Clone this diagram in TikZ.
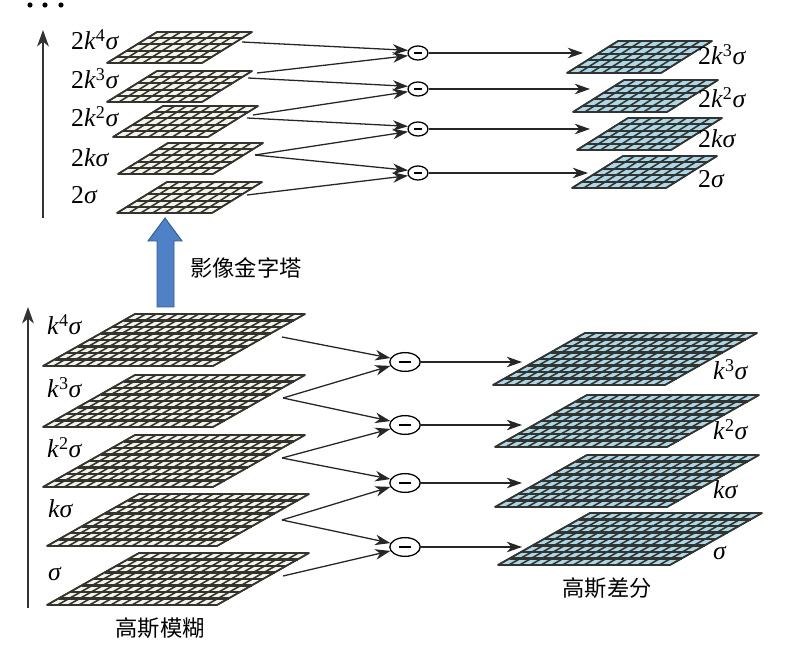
\documentclass[tikz,border=0pt]{standalone}
\usepackage{fontspec}
\setmainfont{Liberation Serif}
\newfontfamily\cjk{Noto Sans CJK SC}
\usetikzlibrary{arrows.meta,shapes.geometric}

\definecolor{gridtan}{HTML}{F6F4EA}
\definecolor{gridblue}{HTML}{A8D8E9}
\definecolor{gridline}{HTML}{34342F}
\definecolor{pyrblue}{HTML}{4F81C6}
\definecolor{pyredge}{HTML}{2F5B9A}

\tikzset{
  gridrow/.style={draw=gridline, line width=1.8pt},
  gridcol/.style={draw=gridline, line width=1.35pt},
  layeredge/.style={draw=gridline, line width=1.4pt, line join=round},
  feed/.style={draw=black!85, line width=1.1pt, -{Stealth[length=13pt,width=9pt,inset=4pt]}},
  axis/.style={draw=black!80, line width=1.3pt, -{Stealth[length=14pt,width=10pt,inset=4pt]}},
  diff/.style={ellipse, draw, line width=1.1pt, fill=white, inner sep=0pt},
  diffsmall/.style={diff, minimum width=17pt, minimum height=12pt},
  diffbig/.style={diff, minimum width=26pt, minimum height=16pt},
  scalelabel/.style={anchor=base west, inner sep=0pt, font=\fontsize{22}{24}\selectfont},
  cnlabel/.style={inner sep=0pt, font=\cjk\fontsize{19}{22}\selectfont},
}

% one grid layer: name, x, y (bottom left), width, height, shear, cols, rows, colour
\newcommand\gridlayer[9]{%
  \begin{scope}[shift={(#2,#3)}]
    \fill[#9] (0,0) -- (#4,0) -- ({#4+#6},{-#5}) -- (#6,{-#5}) -- cycle;
    \foreach \r in {0,...,#8}
      \draw[gridrow] ({\r*#6/#8},{-\r*#5/#8}) -- ++(#4,0);
    \foreach \c in {0,...,#7}
      \draw[gridcol] ({\c*#4/#7},0) -- ++(#6,{-#5});
    \draw[layeredge] (0,0) -- (#4,0) -- ({#4+#6},{-#5}) -- (#6,{-#5}) -- cycle;
    \coordinate (#1) at ({#4+#6/2},{-#5/2});
  \end{scope}}

\newcommand\minusbar[1]{\rule{#1}{1.9pt}}

\begin{document}
\begin{tikzpicture}[x=0.03cm, y=-0.03cm]
  \useasboundingbox (0,0) rectangle (807,657);

  %%%%% upper octave %%%%%
  \fill (30,5) circle (2.2pt);
  \fill (45,5) circle (2.2pt);
  \fill (61,5) circle (2.2pt);

  \coordinate (axt0) at (43,218);
  \coordinate (axt1) at (43,30);
  \draw[axis] (axt0) -- (axt1);

  \gridlayer{g4s}{107}{63}{95}{31}{50}{8}{5}{gridtan}
  \gridlayer{g3s}{107}{102}{95}{31}{50}{8}{5}{gridtan}
  \gridlayer{g2s}{113}{137}{95}{31}{50}{8}{5}{gridtan}
  \gridlayer{g1s}{118}{174}{95}{31}{50}{8}{5}{gridtan}
  \gridlayer{g0s}{117}{213}{95}{31}{50}{8}{5}{gridtan}

  \gridlayer{d3s}{567}{73}{94}{32}{51}{8}{5}{gridblue}
  \gridlayer{d2s}{573}{112}{94}{32}{51}{8}{5}{gridblue}
  \gridlayer{d1s}{577}{150}{94}{32}{51}{8}{5}{gridblue}
  \gridlayer{d0s}{572}{188}{94}{32}{51}{8}{5}{gridblue}

  \node[scalelabel] (l4s) at (71,50) {2\textit{k}\textsuperscript{4}\textit{σ}};
  \node[scalelabel] (l3s) at (71,89) {2\textit{k}\textsuperscript{3}\textit{σ}};
  \node[scalelabel] (l2s) at (71,127) {2\textit{k}\textsuperscript{2}\textit{σ}};
  \node[scalelabel] (l1s) at (71,167) {2\textit{kσ}};
  \node[scalelabel] (l0s) at (71,204) {2\textit{σ}};

  \node[scalelabel] (r3s) at (698,65) {2\textit{k}\textsuperscript{3}\textit{σ}};
  \node[scalelabel] (r2s) at (698,108) {2\textit{k}\textsuperscript{2}\textit{σ}};
  \node[scalelabel] (r1s) at (698,148) {2\textit{kσ}};
  \node[scalelabel] (r0s) at (698,188) {2\textit{σ}};

  \node[diffsmall] (m3s) at (418,53) {\minusbar{6.5pt}};
  \node[diffsmall] (m2s) at (418,89) {\minusbar{6.5pt}};
  \node[diffsmall] (m1s) at (418,129) {\minusbar{6.5pt}};
  \node[diffsmall] (m0s) at (418,173) {\minusbar{6.5pt}};

  \coordinate (s4s) at (242,42);
  \coordinate (s3su) at (257,73);
  \coordinate (s3sd) at (248,78);
  \coordinate (s2su) at (253,115);
  \coordinate (s2sd) at (247,118);
  \coordinate (s1s) at (255,155);
  \coordinate (s0s) at (247,195);

  \draw[feed] (s4s) -- (m3s.165);
  \draw[feed] (s3su) -- (m3s.195);
  \draw[feed] (s3sd) -- (m2s.165);
  \draw[feed] (s2su) -- (m2s.195);
  \draw[feed] (s2sd) -- (m1s.165);
  \draw[feed] (s1s) -- (m1s.195);
  \draw[feed] (s1s) -- (m0s.165);
  \draw[feed] (s0s) -- (m0s.195);

  \coordinate (e3s) at (583,53);
  \coordinate (e2s) at (590,89);
  \coordinate (e1s) at (590,129);
  \coordinate (e0s) at (588,173);
  \draw[feed] (m3s.east) -- (e3s);
  \draw[feed] (m2s.east) -- (e2s);
  \draw[feed] (m1s.east) -- (e1s);
  \draw[feed] (m0s.east) -- (e0s);

  %%%%% pyramid step %%%%%
  \draw[fill=pyrblue, draw=pyredge, line width=0.8pt]
    (157,307) -- (157,241) -- (148,241) -- (165,218) -- (182,241) -- (174,241) -- (174,307) -- cycle;
  \node[cnlabel] (pyr) at (246,268) {影像金字塔};

  %%%%% lower octave %%%%%
  \coordinate (axb0) at (28,608);
  \coordinate (axb1) at (28,307);
  \draw[axis] (axb0) -- (axb1);

  \gridlayer{g4}{43}{366}{170}{52}{92}{16}{8}{gridtan}
  \gridlayer{g3}{43}{427}{170}{52}{92}{16}{8}{gridtan}
  \gridlayer{g2}{43}{487}{170}{52}{92}{16}{8}{gridtan}
  \gridlayer{g1}{47}{546}{170}{52}{92}{16}{8}{gridtan}
  \gridlayer{g0}{47}{605}{170}{52}{92}{16}{8}{gridtan}

  \gridlayer{d3}{493}{385}{172}{52}{92}{16}{8}{gridblue}
  \gridlayer{d2}{495}{447}{172}{52}{92}{16}{8}{gridblue}
  \gridlayer{d1}{495}{507}{172}{52}{92}{16}{8}{gridblue}
  \gridlayer{d0}{498}{565}{172}{52}{92}{16}{8}{gridblue}

  \node[scalelabel] (l4) at (47,335) {\textit{k}\textsuperscript{4}\textit{σ}};
  \node[scalelabel] (l3) at (47,398) {\textit{k}\textsuperscript{3}\textit{σ}};
  \node[scalelabel] (l2) at (47,458) {\textit{k}\textsuperscript{2}\textit{σ}};
  \node[scalelabel] (l1) at (48,518) {\textit{kσ}};
  \node[scalelabel] (l0) at (48,580) {\textit{σ}};

  \node[scalelabel] (r3) at (713,380) {\textit{k}\textsuperscript{3}\textit{σ}};
  \node[scalelabel] (r2) at (713,440) {\textit{k}\textsuperscript{2}\textit{σ}};
  \node[scalelabel] (r1) at (713,499) {\textit{kσ}};
  \node[scalelabel] (r0) at (713,560) {\textit{σ}};

  \node[diffbig] (m3) at (405,362) {\minusbar{10pt}};
  \node[diffbig] (m2) at (405,425) {\minusbar{10pt}};
  \node[diffbig] (m1) at (405,483) {\minusbar{10pt}};
  \node[diffbig] (m0) at (405,547) {\minusbar{10pt}};

  \coordinate (s4) at (282,337);
  \coordinate (s3) at (283,398);
  \coordinate (s2) at (282,458);
  \coordinate (s1) at (282,520);
  \coordinate (s0) at (283,576);

  \draw[feed] (s4) -- (m3.165);
  \draw[feed] (s3) -- (m3.195);
  \draw[feed] (s3) -- (m2.165);
  \draw[feed] (s2) -- (m2.195);
  \draw[feed] (s2) -- (m1.165);
  \draw[feed] (s1) -- (m1.195);
  \draw[feed] (s1) -- (m0.165);
  \draw[feed] (s0) -- (m0.195);

  \coordinate (e3) at (522,362);
  \coordinate (e2) at (522,425);
  \coordinate (e1) at (522,483);
  \coordinate (e0) at (522,547);
  \draw[feed] (m3.east) -- (e3);
  \draw[feed] (m2.east) -- (e2);
  \draw[feed] (m1.east) -- (e1);
  \draw[feed] (m0.east) -- (e0);

  \node[cnlabel] (blur) at (160,628) {高斯模糊};
  \node[cnlabel] (dog) at (607,588) {高斯差分};
\end{tikzpicture}
\end{document}
